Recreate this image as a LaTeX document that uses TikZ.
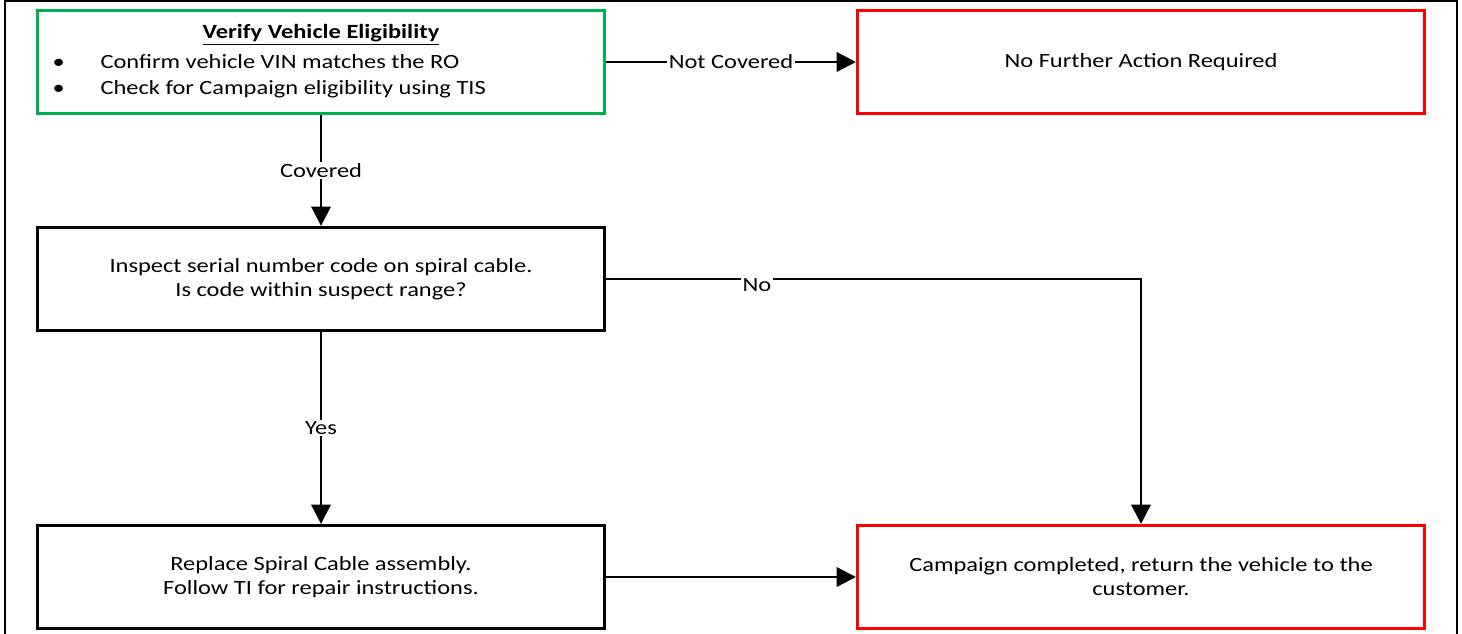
\documentclass[tikz,border=0pt]{standalone}
\usepackage{fontspec}
\setmainfont{Carlito}[FakeStretch=1.21]
\usetikzlibrary{arrows.meta}
\definecolor{okgreen}{RGB}{0,176,80}
\definecolor{stopred}{RGB}{255,0,0}
\begin{document}
\begin{tikzpicture}[x=0.02cm,y=-0.02cm,font=\fontsize{11.5}{13.7}\selectfont,
  box/.style={draw,line width=1.8pt,minimum width=11.34cm,minimum height=2.06cm,align=center,inner sep=2pt},
  arr/.style={line width=1.4pt,-{Triangle[length=11pt,width=11pt]}},
  lbl/.style={fill=white,inner sep=1pt}]
\useasboundingbox (0,0) rectangle (1462,634);
\draw[line width=1.1pt] (5,640) |- (1457,1) -- (1457,640);

\node[box,draw=okgreen,inner xsep=0.3cm] (1) at (321,62) {%
\begin{tabular}{@{}p{0.96cm}@{}p{9.78cm}@{}}
\multicolumn{2}{c}{\textbf{\underline{Verify Vehicle Eligibility}}}\\[3pt]
\textbullet & Confirm vehicle VIN matches the RO\\[1.5pt]
\textbullet & Check for Campaign eligibility using TIS
\end{tabular}};
\node[box,draw=stopred] (2) at (1141,62) {No Further Action Required};
\node[box] (3) at (321,279) {Inspect serial number code on spiral cable.\\ Is code within suspect range?};
\node[box] (4) at (321,577) {Replace Spiral Cable assembly.\\ Follow TI for repair instructions.};
\node[box,draw=stopred] (5) at (1141,577) {Campaign completed, return the vehicle to the\\ customer.};

\draw[arr] (1) -- node[lbl] {Not Covered} (2);
\draw[arr] (1) -- node[lbl] {Covered} (3);
\draw[arr] (3) -| node[lbl,pos=0.141,yshift=-0.13cm] {No} (5);
\draw[arr] (3) -- node[lbl] {Yes} (4);
\draw[arr] (4) -- (5);
\end{tikzpicture}
\end{document}
